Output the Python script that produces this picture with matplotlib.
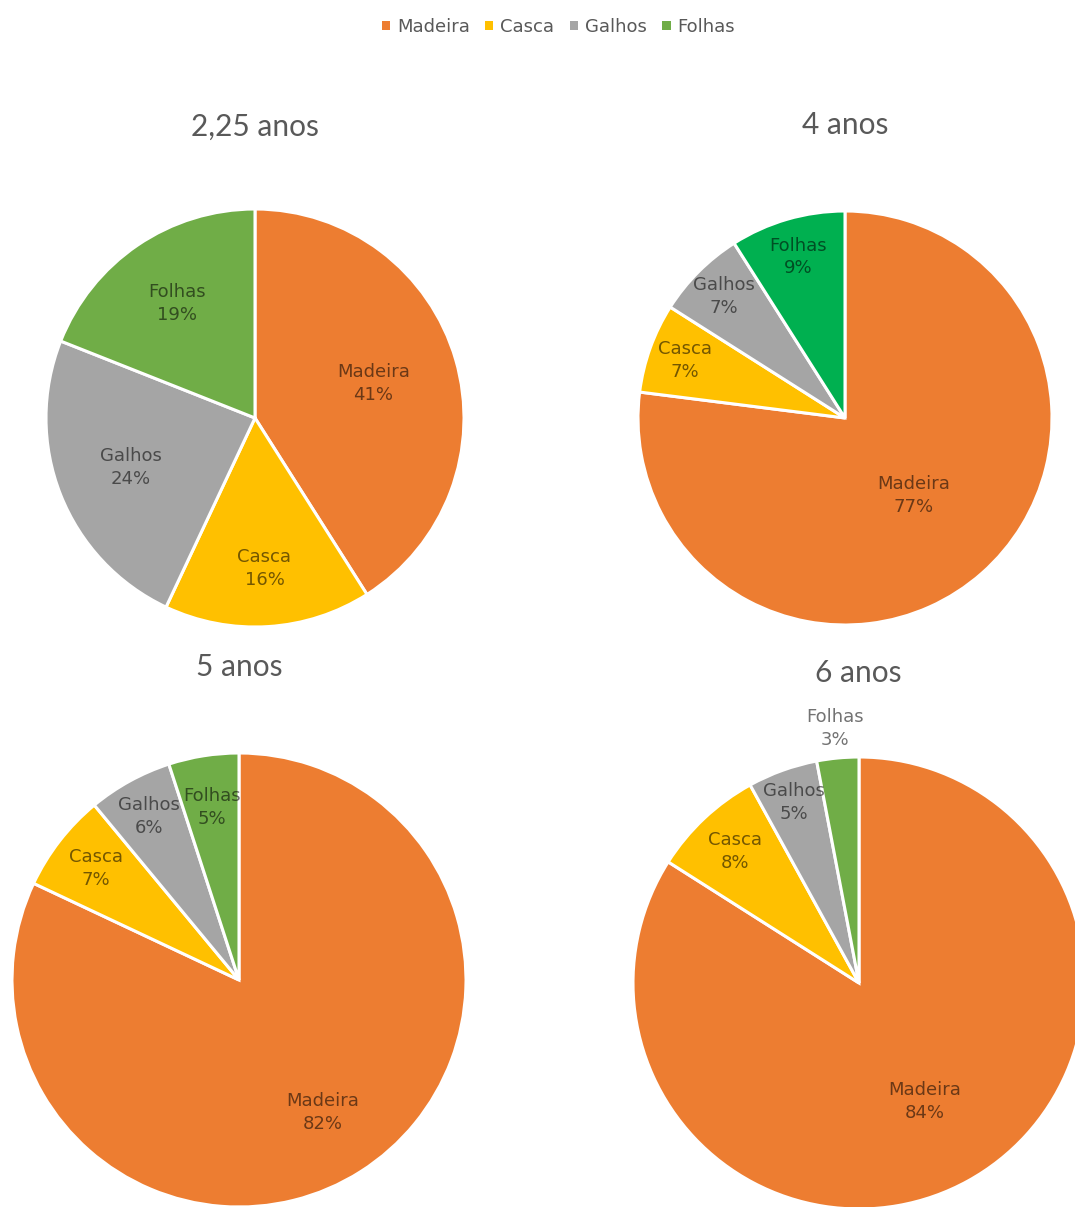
import numpy as np
import matplotlib
matplotlib.use("Agg")
import matplotlib.pyplot as plt
from matplotlib.patches import Patch

# ---------------------------
# Data
# ---------------------------
categories = ["Madeira", "Casca", "Galhos", "Folhas"]
titles = ["2,25 anos", "4 anos", "5 anos", "6 anos"]
vals_225 = [41, 16, 24, 19]
vals_4 = [77, 7, 7, 9]
vals_5 = [82, 7, 6, 5]
vals_6 = [84, 8, 5, 3]
all_vals = [vals_225, vals_4, vals_5, vals_6]

# ---------------------------
# Style
# ---------------------------
W, H = 1075, 1207
COLORS = ["#ED7D31", "#FFC000", "#A5A5A5", "#70AD47"]
COLORS_4 = ["#ED7D31", "#FFC000", "#A5A5A5", "#00B050"]
TXT = "#595959"
TITLE_FONT = "Lato"
LABEL_FONT = "DejaVu Sans"

# pixel centre / radius of each pie and title position
layout = [
    dict(cx=255, cy=418, r=209, tx=255, ty=127, colors=COLORS,
         ld=[0.59, 0.72, 0.64, 0.66]),
    dict(cx=845, cy=418, r=207, tx=845, ty=125, colors=COLORS_4,
         ld=[0.50, 0.82, 0.83, 0.81]),
    dict(cx=239, cy=980, r=227, tx=239, ty=667, colors=COLORS,
         ld=[0.69, 0.80, 0.82, 0.77]),
    dict(cx=859, cy=983, r=226, tx=858, ty=673, colors=COLORS,
         ld=[0.60, 0.80, 0.85, 1.13]),
]

fig = plt.figure(figsize=(W / 100, H / 100), dpi=100)
fig.patch.set_facecolor("white")

for vals, title, lay in zip(all_vals, titles, layout):
    cx, cy, r = lay["cx"], lay["cy"], lay["r"]
    ax = fig.add_axes([(cx - r) / W, (H - (cy + r)) / H, 2 * r / W, 2 * r / H])
    wedges, _ = ax.pie(vals, colors=lay["colors"], startangle=90, counterclock=False,
                       radius=1.0, wedgeprops=dict(edgecolor="white", linewidth=2.2))
    ax.set_xlim(-1, 1)
    ax.set_ylim(-1, 1)
    ax.set_aspect("auto")
    ax.axis("off")
    for w, cat, v, d in zip(wedges, categories, vals, lay["ld"]):
        ang = np.deg2rad((w.theta1 + w.theta2) / 2)
        ax.text(d * np.cos(ang), d * np.sin(ang), f"{cat}\n{v}%", ha="center", va="center",
                fontsize=13, color="black", alpha=0.55, family=LABEL_FONT, linespacing=1.35)
    fig.text(lay["tx"] / W, 1 - lay["ty"] / H, title, ha="center", va="center",
             fontsize=21.5, color=TXT, family=TITLE_FONT)

handles = [Patch(facecolor=c, edgecolor="none") for c in COLORS]
fig.legend(handles, categories, loc="center", bbox_to_anchor=(0.5195, 1 - 27 / H),
           ncol=4, frameon=False, handlelength=0.45, handleheight=0.45,
           handletextpad=0.4, columnspacing=0.85, labelcolor=TXT,
           prop=dict(family=LABEL_FONT, size=13))

fig.savefig("out.png", dpi=100)
